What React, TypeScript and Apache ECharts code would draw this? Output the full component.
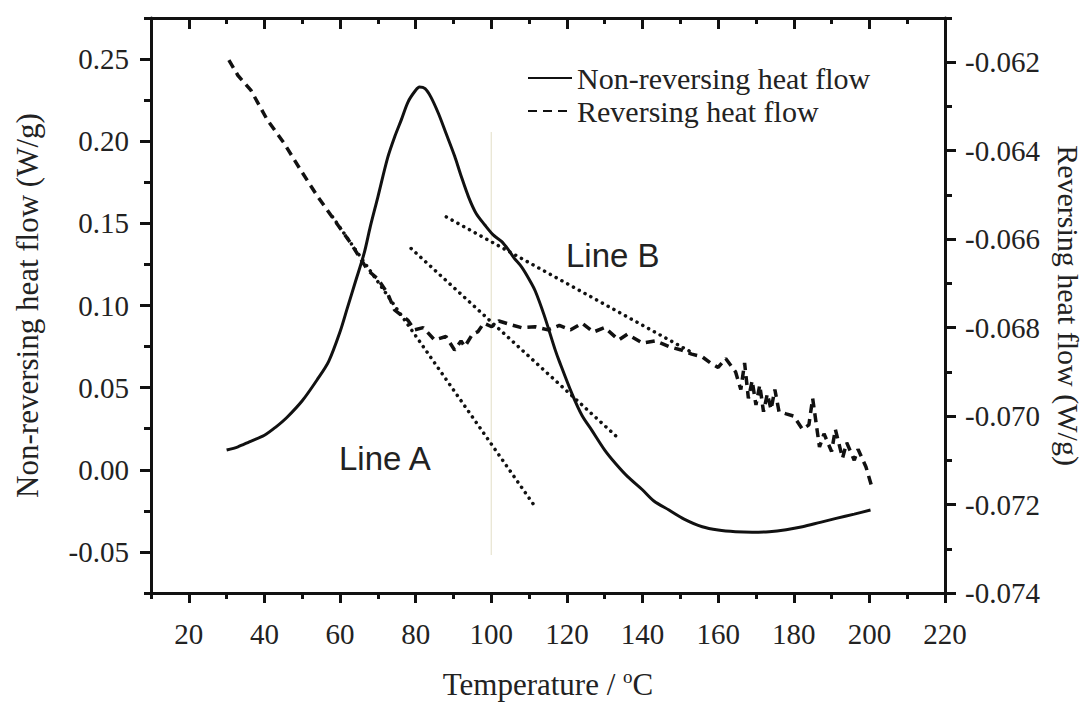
import React, { useEffect, useRef } from "react";
import * as echarts from "echarts";

// Non-reversing heat flow (left axis, W/g)
const nrTemperature = [30, 33, 36, 40, 43, 46, 50, 54, 57, 60, 62, 64, 66.4, 68, 70, 72.6, 74.5, 76.2, 78, 80, 81, 82.5, 84, 86, 88, 90.3, 92, 94, 96, 98.3, 100.5, 102.7, 104.5, 106, 108, 110, 111.6, 114, 116.9, 118, 121.3, 124, 126.6, 130, 132.8, 136, 139.9, 143, 147, 151, 155.8, 160, 164.6, 169, 173.5, 178, 182.3, 187, 191.2, 196, 200.3];
const nrValues = [0.012, 0.014, 0.017, 0.021, 0.026, 0.032, 0.042, 0.055, 0.066, 0.084, 0.099, 0.114, 0.132, 0.148, 0.166, 0.19, 0.203, 0.213, 0.224, 0.231, 0.233, 0.232, 0.227, 0.217, 0.205, 0.191, 0.179, 0.166, 0.156, 0.149, 0.143, 0.139, 0.134, 0.129, 0.1235, 0.116, 0.109, 0.094, 0.073, 0.066, 0.0465, 0.033, 0.024, 0.012, 0.004, -0.004, -0.012, -0.019, -0.0245, -0.03, -0.0347, -0.0367, -0.0377, -0.038, -0.0377, -0.0365, -0.0347, -0.032, -0.0296, -0.027, -0.0245];

// Reversing heat flow (right axis, W/g)
const rTemperature = [30.6, 33, 36.4, 40.8, 45.2, 49.6, 54.1, 58.5, 62.9, 67.3, 70, 72.6, 74.4, 77.9, 79.7, 82, 85, 88, 90.3, 92, 93, 95, 96.5, 98, 100.1, 102, 105.4, 108, 111.6, 115, 118, 121, 124, 127, 130, 133.7, 136, 140, 143.4, 147, 150, 153, 155.8, 158, 160, 162, 164.6, 166, 167, 168, 169, 170, 171, 172, 173, 174, 175, 176.1, 178, 180, 182.3, 184, 185, 186.8, 188, 190, 191, 192.9, 194, 196, 197, 199.1, 200.5];
const rValues = [-0.06195, -0.0623, -0.06263, -0.06331, -0.06383, -0.06444, -0.06504, -0.06557, -0.0661, -0.0667, -0.0669, -0.06723, -0.0676, -0.06783, -0.06805, -0.068, -0.06828, -0.0682, -0.06851, -0.0683, -0.06843, -0.06815, -0.06809, -0.0679, -0.06798, -0.06785, -0.06794, -0.068, -0.06798, -0.06805, -0.06795, -0.06805, -0.0679, -0.0681, -0.068, -0.06828, -0.06815, -0.06835, -0.0683, -0.06843, -0.0685, -0.0686, -0.06866, -0.0688, -0.0689, -0.0687, -0.069, -0.0694, -0.0688, -0.0696, -0.0692, -0.06975, -0.0693, -0.0699, -0.0695, -0.06985, -0.0694, -0.0699, -0.06995, -0.07, -0.0703, -0.0702, -0.0696, -0.0707, -0.0704, -0.0708, -0.0703, -0.07095, -0.0706, -0.071, -0.07075, -0.07115, -0.07156];

// Tangent (dotted) lines, in left-axis units
const lineATemps = [58, 111.6];
const lineAValues = [0.154, -0.0225];
const lineMidTemps = [78.8, 133.2];
const lineMidValues = [0.1347, 0.0201];
const lineBTemps = [88.1, 153.2];
const lineBValues = [0.1539, 0.0712];
const guideTemps = [100, 100];
const guideValues = [0.2056, -0.0519];

// Ticks
const xMajorTicks = [20, 40, 60, 80, 100, 120, 140, 160, 180, 200, 220];
const xMinorTicks = [10, 30, 50, 70, 90, 110, 130, 150, 170, 190, 210];
const leftMajorTicks = [-0.05, 0, 0.05, 0.1, 0.15, 0.2, 0.25];
const leftMinorTicks = [-0.075, -0.025, 0.025, 0.075, 0.125, 0.175, 0.225, 0.275];
const rightMajorTicks = [-0.074, -0.072, -0.07, -0.068, -0.066, -0.064, -0.062];
const rightMinorTicks = [-0.073, -0.071, -0.069, -0.067, -0.065, -0.063, -0.061];

const zip = (xs: number[], ys: number[]) => xs.map((x, i) => [x, ys[i]]);

const SERIF = "'Liberation Serif', 'Times New Roman', serif";
const SANS = "'Liberation Sans', Arial, sans-serif";
const INK = "#111";
const TEXT = "#222";

export default function App() {
  const ref = useRef<HTMLDivElement>(null);
  useEffect(() => {
    if (!ref.current) return;
    const chart = echarts.init(ref.current, null, { renderer: "svg" });
    const labelStyle = { fontFamily: SERIF, fontSize: 29, color: TEXT };
    const xBase = { type: "value", min: 10, max: 220, splitLine: { show: false } };
    const leftBase = { type: "value", min: -0.075, max: 0.275, splitLine: { show: false } };
    const rightBase = { type: "value", min: -0.074, max: -0.061, splitLine: { show: false } };
    const axisLine = { show: true, onZero: false, lineStyle: { color: INK, width: 3 } };
    const noLine = { show: false, onZero: false };
    const tickStyle = { color: INK, width: 3 };

    chart.setOption({
      animation: false,
      grid: { left: 151, right: 147, top: 18, bottom: 109, containLabel: false, outerBoundsMode: "none" },
      legend: {
        data: ["Non-reversing heat flow", "Reversing heat flow"],
        orient: "vertical",
        left: 522,
        top: 58,
        itemWidth: 44,
        itemHeight: 16,
        itemGap: 3,
        itemStyle: { opacity: 0 },
        textStyle: { fontFamily: SERIF, fontSize: 30, color: TEXT },
      },
      xAxis: [
        {
          ...xBase,
          position: "bottom",
          axisLine,
          axisTick: { show: true, inside: false, length: 10, customValues: xMajorTicks, lineStyle: tickStyle },
          axisLabel: { ...labelStyle, margin: 26, customValues: xMajorTicks },
          name: "Temperature / {sup|o}C",
          nameLocation: "middle",
          nameGap: 74,
          nameTextStyle: {
            fontFamily: SERIF,
            fontSize: 31,
            color: TEXT,
            rich: { sup: { fontFamily: SERIF, fontSize: 19, color: TEXT, verticalAlign: "top", padding: [0, 0, 16, 0] } },
          },
        },
        {
          ...xBase,
          position: "bottom",
          axisLine: noLine,
          axisTick: { show: true, inside: false, length: 6, customValues: xMinorTicks, lineStyle: tickStyle },
          axisLabel: { show: false },
        },
        {
          ...xBase,
          position: "top",
          axisLine,
          axisTick: { show: true, inside: true, length: 11, customValues: xMajorTicks, lineStyle: tickStyle },
          axisLabel: { show: false },
        },
        {
          ...xBase,
          position: "top",
          axisLine: noLine,
          axisTick: { show: true, inside: true, length: 6, customValues: xMinorTicks, lineStyle: tickStyle },
          axisLabel: { show: false },
        },
      ],
      yAxis: [
        {
          ...leftBase,
          position: "left",
          axisLine,
          axisTick: { show: true, inside: false, length: 11, customValues: leftMajorTicks, lineStyle: tickStyle },
          axisLabel: { ...labelStyle, margin: 22, customValues: leftMajorTicks, formatter: (v: number) => v.toFixed(2) },
          name: "Non-reversing heat flow (W/g)",
          nameLocation: "middle",
          nameRotate: 90,
          nameGap: 108,
          nameTextStyle: { fontFamily: SERIF, fontSize: 31, color: TEXT },
        },
        {
          ...leftBase,
          position: "left",
          axisLine: noLine,
          axisTick: { show: true, inside: false, length: 7, customValues: leftMinorTicks, lineStyle: tickStyle },
          axisLabel: { show: false },
        },
        {
          ...rightBase,
          position: "right",
          axisLine,
          axisTick: { show: true, inside: false, length: 11, customValues: rightMajorTicks, lineStyle: tickStyle },
          axisLabel: { ...labelStyle, margin: 20, customValues: rightMajorTicks, formatter: (v: number) => v.toFixed(3) },
          name: "Reversing heat flow (W/g)",
          nameLocation: "middle",
          nameRotate: -90,
          nameGap: 108,
          nameTextStyle: { fontFamily: SERIF, fontSize: 30, color: TEXT },
        },
        {
          ...rightBase,
          position: "right",
          axisLine: noLine,
          axisTick: { show: true, inside: false, length: 7, customValues: rightMinorTicks, lineStyle: tickStyle },
          axisLabel: { show: false },
        },
      ],
      graphic: [
        { type: "text", left: 566, top: 239, style: { text: "Line B", fontFamily: SANS, fontSize: 33, fill: TEXT } },
        { type: "text", left: 339, top: 442, style: { text: "Line A", fontFamily: SANS, fontSize: 33, fill: TEXT } },
      ],
      series: [
        {
          name: "guide",
          type: "line",
          xAxisIndex: 0,
          yAxisIndex: 0,
          data: zip(guideTemps, guideValues),
          symbol: "none",
          lineStyle: { color: "#e9e6d4", width: 1.3 },
          silent: true,
          z: 1,
        },
        {
          name: "Non-reversing heat flow",
          type: "line",
          xAxisIndex: 0,
          yAxisIndex: 0,
          data: zip(nrTemperature, nrValues),
          symbol: "none",
          smooth: 0.3,
          lineStyle: { color: INK, width: 3 },
          itemStyle: { color: INK },
          z: 3,
        },
        {
          name: "Reversing heat flow",
          type: "line",
          xAxisIndex: 0,
          yAxisIndex: 2,
          data: zip(rTemperature, rValues),
          symbol: "none",
          lineStyle: { color: INK, width: 3.5, type: [9, 6] },
          itemStyle: { color: INK },
          z: 3,
        },
        ...[
          zip(lineATemps, lineAValues),
          zip(lineMidTemps, lineMidValues),
          zip(lineBTemps, lineBValues),
        ].map((d, i) => ({
          name: "tangent" + i,
          type: "line",
          xAxisIndex: 0,
          yAxisIndex: 0,
          data: d,
          symbol: "none",
          lineStyle: { color: INK, width: 3.5, type: [0.1, 6.5], cap: "round" },
          z: 2,
        })),
      ],
    });
    return () => chart.dispose();
  }, []);
  return <div ref={ref} style={{ position: "absolute", left: 0, top: 0, width: 1092, height: 702, background: "#fff" }} />;
}
